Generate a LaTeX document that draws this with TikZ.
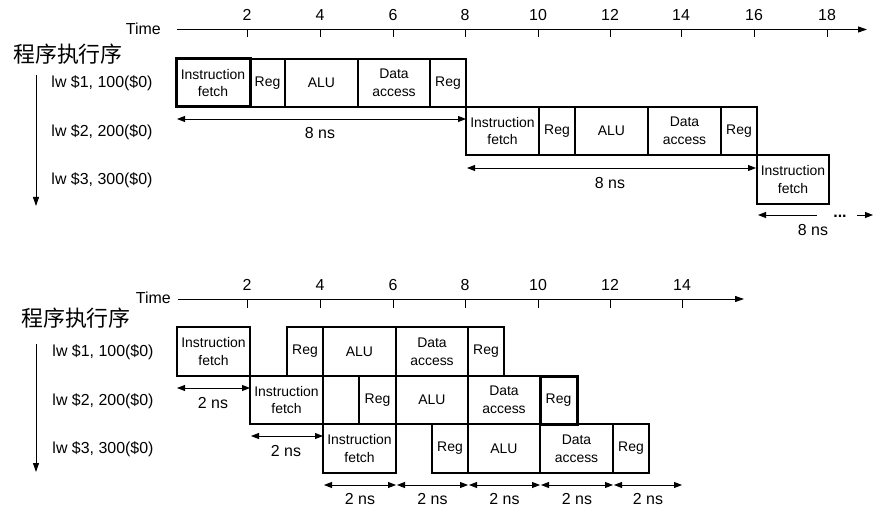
\documentclass[tikz,border=0pt]{standalone}
\usepackage{fontspec}
\setmainfont{Liberation Sans}
\newfontfamily\cjk{Noto Sans CJK SC}
\usetikzlibrary{arrows.meta}
\newcommand\stg[7][]{\node[box,#1,minimum width={(#4-#3)*1bp},minimum height={(#6-#5)*1bp}] (#2) at (#3,#5) {#7};}
\begin{document}
\begin{tikzpicture}[x=1bp,y=-1bp,
  box/.style={draw, line width=1.1bp, inner sep=0pt, outer sep=0pt, align=center,
    font=\fontsize{14}{18}\selectfont, anchor=north west},
  lbl/.style={font=\fontsize{16}{18}\selectfont, inner sep=0pt},
  cn/.style={font=\cjk\fontsize{22}{24}\selectfont, inner sep=0pt},
  axis/.style={line width=0.9bp, -{Triangle[length=9bp,width=6bp]}},
  tick/.style={line width=0.9bp},
  dim/.style={line width=0.9bp, {Triangle[length=8bp,width=6bp]}-{Triangle[length=8bp,width=6bp]}},
  dimL/.style={line width=0.9bp, {Triangle[length=8bp,width=6bp]}-},
  dimR/.style={line width=0.9bp, -{Triangle[length=8bp,width=6bp]}},
  order/.style={line width=0.9bp, -{Triangle[length=9bp,width=6bp]}},
  thick box/.style={line width=3bp},
]
\useasboundingbox (0,0) rectangle (881,521);

% ================= TOP: single-cycle =================
\node[lbl, anchor=east] (timeA) at (161,29) {Time};
\coordinate (axA0) at (177,29.5);
\coordinate (axA1) at (867,29.5);
\draw[axis] (axA0) -- (axA1);
\foreach \x/\t in {247/2,320/4,393/6,465/8,538/10,610/12,681/14,754/16,827/18}{
  \draw[tick] (\x,29.5) -- (\x,37);
  \node[lbl] (tA\t) at (\x,15) {\t};
}
\node[cn] (cnA) at (68,54) {程序执行序};
\coordinate (ordA0) at (36,75);
\coordinate (ordA1) at (36,206);
\draw[order] (ordA0) -- (ordA1);
\node[lbl] (iA1) at (102,83) {lw \$1, 100(\$0)};
\node[lbl] (iA2) at (102,132) {lw \$2, 200(\$0)};
\node[lbl] (iA3) at (102,180) {lw \$3, 300(\$0)};

% row 1
\stg{a1if}{176}{250}{59}{107}{Instruction\\fetch}
\stg{a1r1}{250}{285}{59}{107}{Reg}
\stg{a1alu}{285}{358}{59}{107}{ALU}
\stg{a1da}{358}{430}{59}{107}{Data\\access}
\stg{a1r2}{430}{466}{59}{107}{Reg}
\draw[line width=2bp] (a1if.north west) rectangle (a1r2.south east);
\draw[thick box] (a1if.north west) rectangle (a1if.south east);
% row 2
\stg{a2if}{466}{539}{107}{155}{Instruction\\fetch}
\stg{a2r1}{539}{575}{107}{155}{Reg}
\stg{a2alu}{575}{648}{107}{155}{ALU}
\stg{a2da}{648}{721}{107}{155}{Data\\access}
\stg{a2r2}{721}{757}{107}{155}{Reg}
\draw[line width=2bp] (a2if.north west) rectangle (a2r2.south east);
% row 3
\stg{a3if}{757}{829}{155}{204}{Instruction\\fetch}
\draw[line width=2bp] (a3if.north west) rectangle (a3if.south east);

% 8 ns dimensions
\coordinate (dA1a) at (177,119); \coordinate (dA1b) at (466,119);
\draw[dim] (dA1a) -- (dA1b);
\node[lbl] (lA1) at (320,133) {8 ns};
\coordinate (dA2a) at (467,168); \coordinate (dA2b) at (756,168);
\draw[dim] (dA2a) -- (dA2b);
\node[lbl] (lA2) at (610,183) {8 ns};
\coordinate (dA3a) at (758,215); \coordinate (dA3b) at (817,215);
\draw[dimL] (dA3a) -- (dA3b);
\node[lbl, font=\bfseries\fontsize{16}{18}\selectfont] (dots) at (840,216.5) {...};
\coordinate (dA3c) at (857,215); \coordinate (dA3d) at (873,215);
\draw[dimR] (dA3c) -- (dA3d);
\node[lbl] (lA3) at (813,230) {8 ns};

% ================= BOTTOM: pipelined =================
\node[lbl, anchor=east] (timeB) at (171,298) {Time};
\coordinate (axB0) at (178,299);
\coordinate (axB1) at (744,299);
\draw[axis] (axB0) -- (axB1);
\foreach \x/\t in {247/2,320/4,393/6,465/8,538/10,610/12,682/14}{
  \draw[tick] (\x,299) -- (\x,308);
  \node[lbl] (tB\t) at (\x,285) {\t};
}
\node[cn] (cnB) at (76,318) {程序执行序};
\coordinate (ordB0) at (36,344);
\coordinate (ordB1) at (36,472);
\draw[order] (ordB0) -- (ordB1);
\node[lbl] (iB1) at (103,352) {lw \$1, 100(\$0)};
\node[lbl] (iB2) at (103,401) {lw \$2, 200(\$0)};
\node[lbl] (iB3) at (103,449) {lw \$3, 300(\$0)};

\begin{scope}[box/.append style={line width=1.6bp}]
% row 1
\stg{b1if}{177}{250}{327}{376}{Instruction\\fetch}
\stg{b1r1}{287}{323}{327}{376}{Reg}
\stg{b1alu}{323}{396}{327}{376}{ALU}
\stg{b1da}{396}{468}{327}{376}{Data\\access}
\stg{b1r2}{468}{504}{327}{376}{Reg}
% row 2
\stg{b2if}{250}{323}{376}{424}{Instruction\\fetch}
\stg{b2r1}{359}{396}{376}{424}{Reg}
\stg{b2alu}{396}{468}{376}{424}{ALU}
\stg{b2da}{468}{540}{376}{424}{Data\\access}
\stg[thick box]{b2r2}{540}{577}{376}{424}{Reg}
% row 3
\stg{b3if}{323}{396}{424}{473}{Instruction\\fetch}
\stg{b3r1}{432}{468}{424}{473}{Reg}
\stg{b3alu}{468}{540}{424}{473}{ALU}
\stg{b3da}{540}{613}{424}{473}{Data\\access}
\stg{b3r2}{613}{649}{424}{473}{Reg}
\end{scope}

% 2 ns dimensions
\coordinate (dB1a) at (177,388); \coordinate (dB1b) at (250,388);
\draw[dim] (dB1a) -- (dB1b);
\node[lbl] (lB1) at (213,403) {2 ns};
\coordinate (dB2a) at (251,436); \coordinate (dB2b) at (323,436);
\draw[dim] (dB2a) -- (dB2b);
\node[lbl] (lB2) at (286,451) {2 ns};
\foreach \a/\b/\n in {324/396/1,397/468/2,469/540/3,541/613/4,614/682/5}{
  \coordinate (dC\n a) at (\a,485); \coordinate (dC\n b) at (\b,485);
  \draw[dim] (dC\n a) -- (dC\n b);
  \node[lbl] (lC\n) at ({(\a+\b)/2},499) {2 ns};
}
\end{tikzpicture}
\end{document}
